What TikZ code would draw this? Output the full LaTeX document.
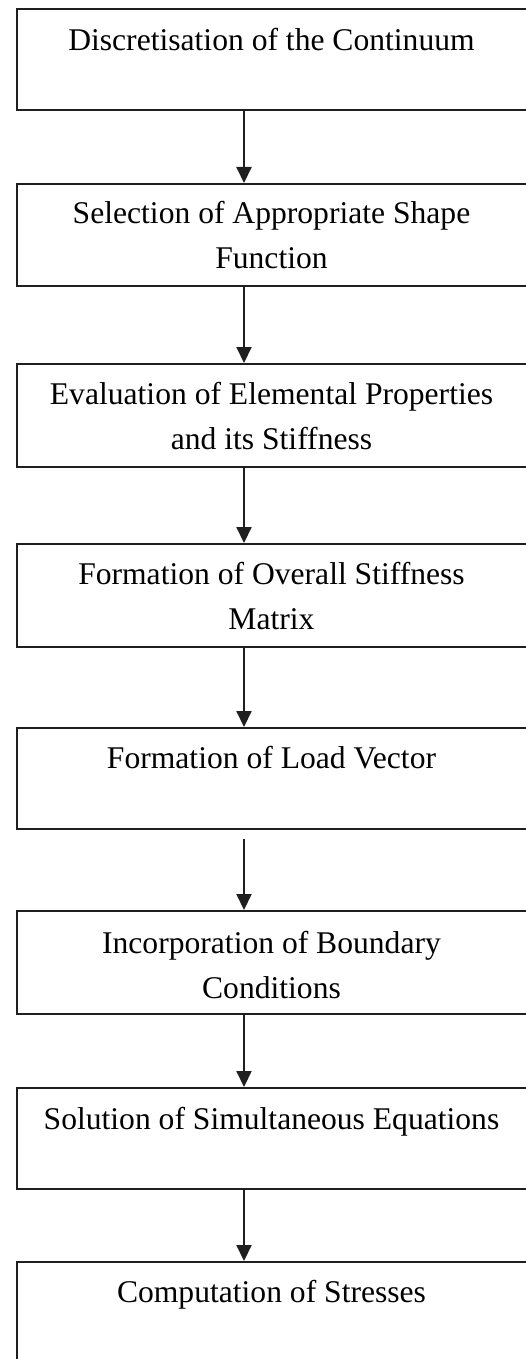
\documentclass[tikz,border=0pt]{standalone}
\usepackage{fontspec}
\setmainfont{Liberation Serif}
\usetikzlibrary{arrows.meta}
\begin{document}
\begin{tikzpicture}[x=1pt,y=-1pt,
  stagebox/.style={draw=black!88,line width=2pt,rectangle,inner sep=0pt,minimum width=511pt,anchor=north west},
  stagetext/.style={anchor=base,inner sep=0pt,font=\fontsize{31.6}{45}\selectfont},
  flowarrow/.style={draw=black!88,line width=2pt,-{Triangle[width=15pt,length=16pt]}}]
\useasboundingbox (0,0) rectangle (525,1359);
\fill[white] (0,0) rectangle (525,1359);
\coordinate (ax) at (244,0);
\coordinate (tx) at (271.5,0);
% boxes
\node[stagebox,minimum height=101pt] (b1) at (16,8) {};
\node[stagebox,minimum height=102pt] (b2) at (16,183) {};
\node[stagebox,minimum height=103pt] (b3) at (16,363) {};
\node[stagebox,minimum height=103pt] (b4) at (16,543) {};
\node[stagebox,minimum height=101pt] (b5) at (16,727) {};
\node[stagebox,minimum height=103pt] (b6) at (16,910) {};
\node[stagebox,minimum height=101pt] (b7) at (16,1087) {};
\node[stagebox,minimum height=160pt] (b8) at (16,1261) {};
% texts
\node[stagetext] (t1) at ([yshift=-43pt]b1.north -| tx) {\parbox[t]{500pt}{\centering Discretisation of the Continuum}};
\node[stagetext] (t2) at ([yshift=-40pt]b2.north -| tx) {\parbox[t]{500pt}{\centering Selection of Appropriate Shape\\Function}};
\node[stagetext] (t3) at ([yshift=-41pt]b3.north -| tx) {\parbox[t]{500pt}{\centering Evaluation of Elemental Properties\\and its Stiffness}};
\node[stagetext] (t4) at ([yshift=-41pt]b4.north -| tx) {\parbox[t]{500pt}{\centering Formation of Overall Stiffness\\Matrix}};
\node[stagetext] (t5) at ([yshift=-41pt]b5.north -| tx) {\parbox[t]{500pt}{\centering Formation of Load Vector}};
\node[stagetext] (t6) at ([yshift=-43pt]b6.north -| tx) {\parbox[t]{500pt}{\centering Incorporation of Boundary\\Conditions}};
\node[stagetext] (t7) at ([yshift=-42pt]b7.north -| tx) {\parbox[t]{500pt}{\centering Solution of Simultaneous Equations}};
\node[stagetext] (t8) at ([yshift=-41pt]b8.north -| tx) {\parbox[t]{500pt}{\centering Computation of Stresses}};
% arrows
\draw[flowarrow] (b1.south -| ax) -- (b2.north -| ax);
\draw[flowarrow] (b2.south -| ax) -- (b3.north -| ax);
\draw[flowarrow] (b3.south -| ax) -- (b4.north -| ax);
\draw[flowarrow] (b4.south -| ax) -- (b5.north -| ax);
\draw[flowarrow,shorten <=9pt] (b5.south -| ax) -- (b6.north -| ax);
\draw[flowarrow] (b6.south -| ax) -- (b7.north -| ax);
\draw[flowarrow] (b7.south -| ax) -- (b8.north -| ax);
\end{tikzpicture}
\end{document}
